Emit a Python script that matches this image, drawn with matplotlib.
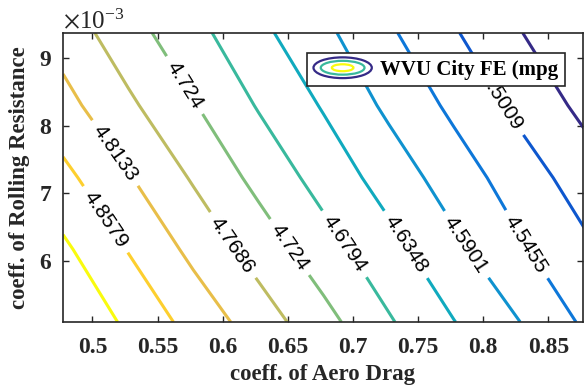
import numpy as np
import matplotlib
matplotlib.use("Agg")
import matplotlib.pyplot as plt
from matplotlib.colors import LinearSegmentedColormap, Normalize
from matplotlib.patches import Ellipse
from matplotlib.legend_handler import HandlerBase
from matplotlib.ticker import FormatStrFormatter

# grid
aero_drag = [0.4775, 0.5275, 0.5775, 0.6275, 0.6775, 0.7275, 0.7775, 0.8275, 0.8775]
rolling_res = [5.10e-3, 6.17e-3, 7.23e-3, 8.30e-3, 9.37e-3]
fe_mpg = [
    [4.946, 4.894, 4.842, 4.792, 4.739, 4.684, 4.636, 4.591, 4.539],
    [4.911, 4.856, 4.802, 4.750, 4.698, 4.650, 4.601, 4.552, 4.510],
    [4.870, 4.817, 4.764, 4.711, 4.662, 4.616, 4.568, 4.524, 4.480],
    [4.828, 4.777, 4.727, 4.676, 4.631, 4.581, 4.536, 4.490, 4.445],
    [4.794, 4.742, 4.693, 4.646, 4.600, 4.552, 4.505, 4.459, 4.412],
]
levels = [4.4563, 4.5009, 4.5455, 4.5901, 4.6348, 4.6794, 4.724, 4.7686, 4.8133, 4.8579, 4.9025]
# where the inline labels sit (approx)
label_pos = [(0.5697, 8.586e-3), (0.5176, 7.597e-3), (0.5107, 6.622e-3), (0.608, 6.238e-3),
             (0.6516, 6.208e-3), (0.6945, 6.267e-3), (0.7412, 6.253e-3), (0.7879, 6.253e-3),
             (0.8338, 6.253e-3), (0.8147, 8.365e-3)]
xticks = [0.5, 0.55, 0.6, 0.65, 0.7, 0.75, 0.8, 0.85]
yticks = [6e-3, 7e-3, 8e-3, 9e-3]

parula = LinearSegmentedColormap.from_list("parula", [
    (0.2081, 0.1663, 0.5292), (0.0117, 0.3875, 0.8820), (0.0793, 0.5200, 0.8312),
    (0.0228, 0.6535, 0.7768), (0.2178, 0.7250, 0.6193), (0.5709, 0.7485, 0.4494),
    (0.8507, 0.7299, 0.3360), (0.9990, 0.7653, 0.2164), (0.9763, 0.9831, 0.0538)])

plt.rcParams['font.family'] = 'Liberation Serif'
plt.rcParams['mathtext.fontset'] = 'stix'
dark = '#262626'


class EllipseIcon:
    pass


class EllipseHandler(HandlerBase):
    def create_artists(self, legend, orig_handle, xdescent, ydescent, width, height, fontsize, trans):
        cx = width / 2 - xdescent
        cy = height / 2 - ydescent
        out = []
        for fw, fh, c in [(1.0, 1.2, parula(0.0)), (0.75, 0.8, parula(0.5)), (0.37, 0.4, parula(1.0))]:
            out.append(Ellipse((cx, cy), width * fw, height * fh, fill=False,
                               edgecolor=c, lw=1.6, transform=trans))
        return out


fig = plt.figure(figsize=(5.84, 3.87), dpi=100)
ax = fig.add_axes([0.108, 0.168, 0.89, 0.747])

cs = ax.contour(aero_drag, rolling_res, fe_mpg, levels=levels, cmap=parula,
                norm=Normalize(levels[0], levels[-1]), linewidths=2.2)
with plt.rc_context({'font.family': 'Liberation Sans'}):
    ax.clabel(cs, fmt='%g', manual=label_pos, inline=True, inline_spacing=8,
              fontsize=15, colors='k')

ax.set_xlim(0.4775, 0.8765)
ax.set_ylim(5.1e-3, 9.37e-3)
ax.set_xticks(xticks)
ax.set_yticks(yticks)
ax.xaxis.set_major_formatter(FormatStrFormatter('%g'))
ax.ticklabel_format(axis='y', style='sci', scilimits=(0, 0), useMathText=True)
ax.yaxis.get_offset_text().set_fontsize(18)
ax.yaxis.get_offset_text().set_color(dark)
ax.tick_params(direction='in', top=True, right=True, length=4, width=1, labelsize=17,
               colors=dark)
ax.tick_params(axis='x', pad=11)
ax.tick_params(axis='y', pad=8)
for lab in ax.get_xticklabels() + ax.get_yticklabels():
    lab.set_fontweight('bold')
for s in ax.spines.values():
    s.set_color(dark)
    s.set_linewidth(1.2)

ax.set_xlabel('coeff. of Aero Drag', fontsize=16.5, fontweight='bold', color=dark, labelpad=4)
ax.set_ylabel('coeff. of Rolling Resistance', fontsize=16.5, fontweight='bold', color=dark, labelpad=6)

leg = ax.legend([EllipseIcon()], ['WVU City FE (mpg'], handler_map={EllipseIcon: EllipseHandler()},
                loc='upper right', bbox_to_anchor=(0.965, 0.931), borderaxespad=0,
                fancybox=False, edgecolor=dark, framealpha=1, prop={'weight': 'bold', 'size': 15},
                handlelength=2.8, handleheight=0.9, handletextpad=0.4, borderpad=0.3)
leg.get_frame().set_linewidth(1.2)

fig.savefig("out.png", dpi=100)
